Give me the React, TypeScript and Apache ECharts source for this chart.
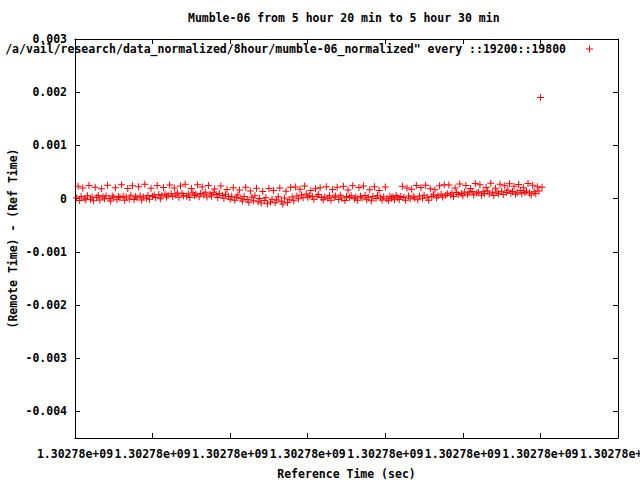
import { useEffect, useRef } from "react";
import * as echarts from "echarts";

const chartTitle = "Mumble-06 from 5 hour 20 min to 5 hour 30 min";
const seriesName =
  '/a/vail/research/data_normalized/8hour/mumble-06_normalized" every ::19200::19800';
const xAxisName = "Reference Time (sec)";
const yAxisName = "(Remote Time) - (Ref Time)";
const xTickLabel = "1.30278e+09";

// seconds since the start of the window (relative to 1.30278e+09 s)
const startTime = 2;
const sampleStep = 2;

// (Remote Time) - (Ref Time), in microseconds, one value every sampleStep seconds
const offsetUs = [
  12, 230, -35, 40, 198, 8, -22, 55, 245, -10, 30, -40, 215, 20, 60, -25, 185, 35, -5, 48,
  250, 2, -45, 50, 25, 205, -20, 38, 15, 262, 45, -30, 28, 190, -8, 62, 240, -15, 35, 10,
  225, 48, -28, 30, 268, 5, 58, -12, 195, 40, 70, 22, 248, 75, -2, 52, 210, 85, 30, 65,
  255, 90, 40, 200, 68, 105, 25, 235, 95, 55, 270, 45, 88, 20, 190, 110, 60, 80, 258, 35,
  98, 220, 70, 120, 30, 245, 85, 50, 112, 180, 75, 20, 95, 238, 60, 5, 82, 172, 40, -10,
  45, 205, -30, 20, 70, 160, -5, -45, 38, 215, -15, -70, 145, 25, -40, 55, 195, -60, 0, -85,
  135, -35, 15, -95, 188, -65, -10, 150, -80, -25, 35, 200, -50, -100, 10, 140, -75, -20, 215, 30,
  -40, 220, 50, -5, 175, 70, 15, 235, 85, 25, 55, 150, 40, -10, 185, 45, 75, 205, 20, -20,
  30, 225, 5, 55, -30, 170, 25, 48, 215, -15, 65, 10, 230, -35, 40, 160, 20, 55, 240, -5,
  28, -30, 210, 45, 10, 235, 60, -20, 25, 165, -40, 38, 225, 0, 52, 150, 15, -25, 35, 220,
  -5, -40, 45, 12, 30, -20, 58, 18, -15, 40, 230, 22, -30, 200, 50, -2, 175, 35, 10, 245,
  -20, 48, 210, 5, 62, 250, 25, -30, 185, 40, 72, 165, 15, 55, 240, 82, 30, 260, 60, 90,
  255, 70, 105, 40, 200, 115, 75, 275, 95, 55, 125, 245, 80, 110, 190, 135, 68, 285, 100, 120,
  262, 65, 130, 95, 210, 145, 85, 290, 110, 60, 195, 125, 90, 270, 140, 75, 240, 115, 155, 280,
  100, 135, 230, 80, 120, 265, 150, 90, 205, 115, 140, 285, 105, 70, 250, 130, 95, 225, 145, 1900,
  215,
];

const yTicks = [-0.004, -0.003, -0.002, -0.001, 0, 0.001, 0.002, 0.003];
const xMin = 0;
const xMax = 700;
const xInterval = 100;
const yMin = -0.0045;
const yMax = 0.003;

const FONT = "'DejaVu Sans Mono', 'Liberation Mono', monospace";
const textBase = { fontFamily: FONT, fontWeight: "bold" as const, fontSize: 11.5, color: "#000" };

export default function App() {
  const ref = useRef<HTMLDivElement>(null);
  useEffect(() => {
    if (!ref.current) return;
    const chart = echarts.init(ref.current, null, { renderer: "svg" });
    const data = offsetUs.map((v, i) => [startTime + i * sampleStep, v / 1e6]);
    const fmtY = (v: number) => (Math.abs(v) < 1e-12 ? "0" : v.toFixed(3));
    const yAxisCommon = {
      type: "value" as const,
      min: yMin,
      max: yMax,
      splitLine: { show: false },
      axisLine: { show: true, onZero: false, lineStyle: { color: "#000", width: 1 } },
      axisTick: { show: true, inside: true, length: 5, customValues: yTicks, lineStyle: { color: "#000" } },
    };
    const xAxisCommon = {
      type: "value" as const,
      min: xMin,
      max: xMax,
      interval: xInterval,
      splitLine: { show: false },
      axisLine: { show: true, onZero: false, lineStyle: { color: "#000", width: 1 } },
      axisTick: { show: true, inside: true, length: 5, lineStyle: { color: "#000" } },
    };
    chart.setOption({
      animation: false,
      backgroundColor: "#fff",
      title: {
        text: chartTitle,
        left: 188,
        top: 12,
        padding: 0,
        textStyle: { ...textBase },
      },
      legend: {
        data: [seriesName],
        right: 47,
        top: 43,
        align: "right",
        itemWidth: 7,
        itemHeight: 7,
        padding: 0,
        textStyle: { ...textBase, padding: [0, 15, 0, 0] },
      },
      grid: { left: 75, top: 39, width: 543, height: 399, show: false, outerBoundsMode: "none", containLabel: false },
      xAxis: [
        {
          ...xAxisCommon,
          position: "bottom",
          name: xAxisName,
          nameLocation: "middle",
          nameGap: 30,
          nameMoveOverlap: false,
          nameTextStyle: { ...textBase },
          axisLabel: {
            ...textBase,
            margin: 10,
            hideOverlap: false,
            showMinLabel: true,
            showMaxLabel: true,
            formatter: () => xTickLabel,
          },
        },
        {
          ...xAxisCommon,
          position: "top",
          axisLabel: { show: false },
        },
      ],
      yAxis: [
        {
          ...yAxisCommon,
          position: "left",
          name: yAxisName,
          nameLocation: "middle",
          nameRotate: 90,
          nameGap: 56,
          nameMoveOverlap: false,
          nameTextStyle: { ...textBase },
          axisLabel: { ...textBase, margin: 8, hideOverlap: false, customValues: yTicks, formatter: fmtY },
        },
        {
          ...yAxisCommon,
          position: "right",
          axisLabel: { show: false },
        },
      ],
      series: [
        {
          name: seriesName,
          type: "scatter",
          xAxisIndex: 0,
          yAxisIndex: 0,
          data,
          symbol: "path://M3,0H4V3H7V4H4V7H3V4H0V3H3Z",
          symbolSize: 7,
          itemStyle: { color: "#ff0000", opacity: 1 },
          emphasis: { disabled: true },
        },
      ],
    });
    return () => chart.dispose();
  }, []);
  return <div ref={ref} style={{ width: 640, height: 480, position: "absolute", left: 0, top: 0 }} />;
}
